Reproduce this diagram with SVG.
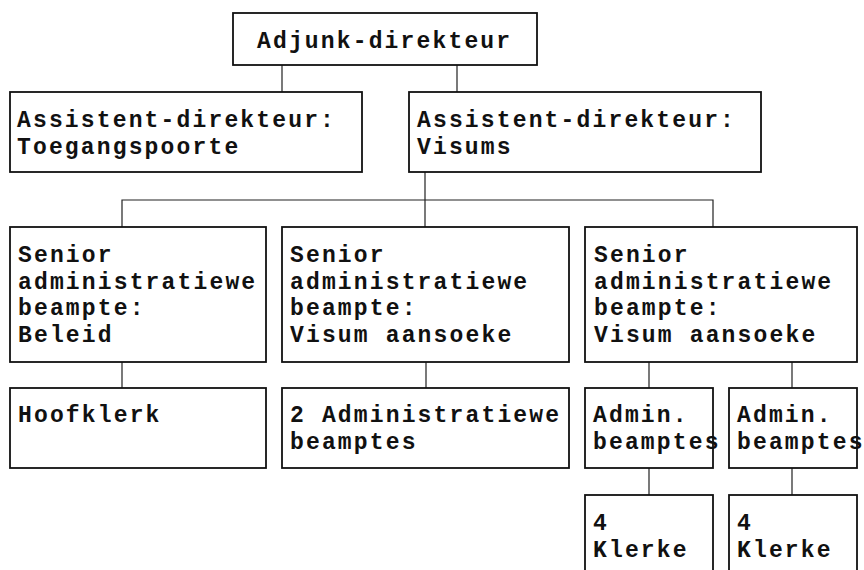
<svg xmlns="http://www.w3.org/2000/svg" width="864" height="570" viewBox="0 0 864 570">
  <style>
    .box { fill: #fff; stroke: #111; stroke-width: 1.8; }
    .lbl { font-family: "Liberation Mono", "Courier New", monospace; font-weight: bold; font-size: 23px; letter-spacing: 2.15px; fill: #111; }
    .conn { stroke: #222; stroke-width: 1.2; fill: none; }
  </style>
  <rect width="864" height="570" fill="#fff"/>

  <g id="connectors">
    <path class="conn" d="M282 65V92M457 65V92"/>
    <path class="conn" d="M425 172V227M122 227V200H713V227"/>
    <path class="conn" d="M122 362V388M426 362V388M649 362V388M792 362V388"/>
    <path class="conn" d="M649 468V495M792 468V495"/>
  </g>

  <g id="adjunk-direkteur">
    <rect class="box" x="233" y="13" width="304" height="52"/>
    <text class="lbl" x="257" y="48">Adjunk-direkteur</text>
  </g>

  <g id="assistent-toegangspoorte">
    <rect class="box" x="10" y="92" width="352" height="80"/>
    <text class="lbl" x="17" y="127">Assistent-direkteur:</text>
    <text class="lbl" x="17" y="153.5">Toegangspoorte</text>
  </g>

  <g id="assistent-visums">
    <rect class="box" x="409" y="92" width="352" height="80"/>
    <text class="lbl" x="417" y="127">Assistent-direkteur:</text>
    <text class="lbl" x="417" y="153.5">Visums</text>
  </g>

  <g id="senior-beleid">
    <rect class="box" x="10" y="227" width="256" height="135"/>
    <text class="lbl" x="18" y="262">Senior</text>
    <text class="lbl" x="18" y="288.5">administratiewe</text>
    <text class="lbl" x="18" y="315">beampte:</text>
    <text class="lbl" x="18" y="341.5">Beleid</text>
  </g>

  <g id="senior-visum-1">
    <rect class="box" x="282" y="227" width="287" height="135"/>
    <text class="lbl" x="290" y="262">Senior</text>
    <text class="lbl" x="290" y="288.5">administratiewe</text>
    <text class="lbl" x="290" y="315">beampte:</text>
    <text class="lbl" x="290" y="341.5">Visum aansoeke</text>
  </g>

  <g id="senior-visum-2">
    <rect class="box" x="585" y="227" width="272" height="135"/>
    <text class="lbl" x="594" y="262">Senior</text>
    <text class="lbl" x="594" y="288.5">administratiewe</text>
    <text class="lbl" x="594" y="315">beampte:</text>
    <text class="lbl" x="594" y="341.5">Visum aansoeke</text>
  </g>

  <g id="hoofklerk">
    <rect class="box" x="10" y="388" width="256" height="80"/>
    <text class="lbl" x="18" y="422">Hoofklerk</text>
  </g>

  <g id="administratiewe-beamptes">
    <rect class="box" x="282" y="388" width="287" height="80"/>
    <text class="lbl" x="290" y="422">2 Administratiewe</text>
    <text class="lbl" x="290" y="448.5">beamptes</text>
  </g>

  <g id="admin-beamptes-1">
    <rect class="box" x="585" y="388" width="128" height="80"/>
    <text class="lbl" x="593" y="422">Admin.</text>
    <text class="lbl" x="593" y="448.5">beamptes</text>
  </g>

  <g id="admin-beamptes-2">
    <rect class="box" x="729" y="388" width="128" height="80"/>
    <text class="lbl" x="737" y="422">Admin.</text>
    <text class="lbl" x="737" y="448.5">beamptes</text>
  </g>

  <g id="klerke-1">
    <rect class="box" x="585" y="495" width="128" height="90"/>
    <text class="lbl" x="593" y="530">4</text>
    <text class="lbl" x="593" y="556.5">Klerke</text>
  </g>

  <g id="klerke-2">
    <rect class="box" x="729" y="495" width="128" height="90"/>
    <text class="lbl" x="737" y="530">4</text>
    <text class="lbl" x="737" y="556.5">Klerke</text>
  </g>
</svg>
